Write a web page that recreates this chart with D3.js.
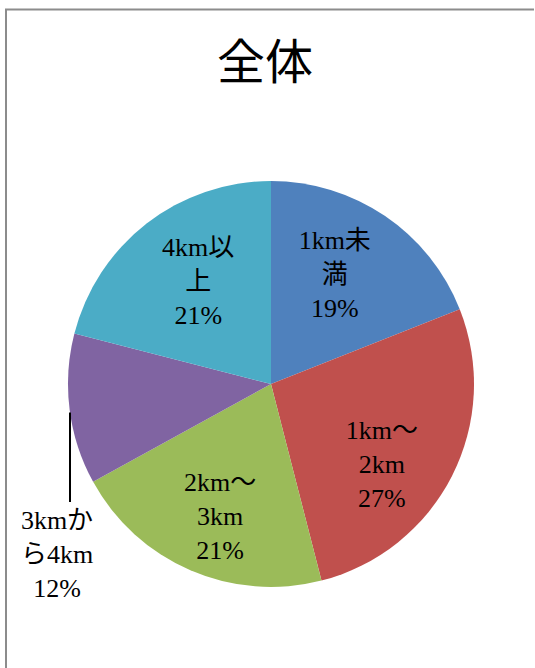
<!DOCTYPE html>
<html><head><meta charset="utf-8">
<script src="https://cdn.jsdelivr.net/npm/d3@7"></script>
<style>html,body{margin:0;padding:0;background:#fff;}svg{display:block;}</style>
</head><body>
<script>
const title = "全体";
const categories = ["1km未満", "1km～2km", "2km～3km", "3kmから4km", "4km以上"];
const values = [19, 27, 21, 12, 21];
const labelLines = [["1km未", "満", "19%"], ["1km～", "2km", "27%"], ["2km～", "3km", "21%"], ["3kmか", "ら4km", "12%"], ["4km以", "上", "21%"]];
const colors = ["#4F81BD", "#C0504D", "#9BBB59", "#8064A2", "#4BACC6"];

const W = 535, H = 668;
const cx = 271, cy = 384, R = 203;
const fontSerif = "'Liberation Serif','Noto Sans CJK JP',serif";
const fontSize = 26, lineH = 34;
// label placement: [angle offset deg, radius], null => outside label
const labelPlace = [[-3.8, 126], [9, 137], [-2.4, 142], null, [2.2, 125]];

const svg = d3.select("body").append("svg").attr("width", W).attr("height", H);

// frame (top + left visible)
svg.append("line").attr("x1", 5).attr("x2", 534).attr("y1", 9.5).attr("y2", 9.5).attr("stroke", "#8c8c8c").attr("stroke-width", 2);
svg.append("line").attr("x1", 6).attr("x2", 6).attr("y1", 9).attr("y2", H).attr("stroke", "#8c8c8c").attr("stroke-width", 2);

svg.append("text").attr("x", 265).attr("y", 79).attr("text-anchor", "middle")
  .attr("font-family", "'Noto Sans CJK JP',sans-serif").attr("font-size", 48).attr("fill", "#000").text(title);

const pie = d3.pie().sort(null).value(d => d)(values);
const arc = d3.arc().innerRadius(0).outerRadius(R);
const g = svg.append("g").attr("transform", `translate(${cx},${cy})`);
g.selectAll("path").data(pie).join("path").attr("d", arc).attr("fill", (d, i) => colors[i]);

function drawLabel(x, y, lines) {
  const t = svg.append("text").attr("text-anchor", "middle").attr("font-family", fontSerif)
    .attr("font-size", fontSize).attr("fill", "#000");
  lines.forEach((s, k) => {
    t.append("tspan").attr("x", x).attr("y", y + (k - (lines.length - 1) / 2) * lineH + fontSize * 0.31).text(s);
  });
}

pie.forEach((d, i) => {
  const p = labelPlace[i];
  if (p) {
    const a = (d.startAngle + d.endAngle) / 2 + p[0] * Math.PI / 180;
    drawLabel(cx + p[1] * Math.sin(a), cy - p[1] * Math.cos(a), labelLines[i]);
  } else {
    const lx = 57, ly = 555;
    const leadX = lx + 13;
    const y0 = cy + Math.sqrt(R * R - (leadX - cx) * (leadX - cx));
    svg.append("line").attr("x1", leadX).attr("x2", leadX).attr("y1", y0).attr("y2", ly - lineH - 19)
      .attr("stroke", "#000").attr("stroke-width", 2);
    drawLabel(lx, ly, labelLines[i]);
  }
});
</script>
</body></html>
